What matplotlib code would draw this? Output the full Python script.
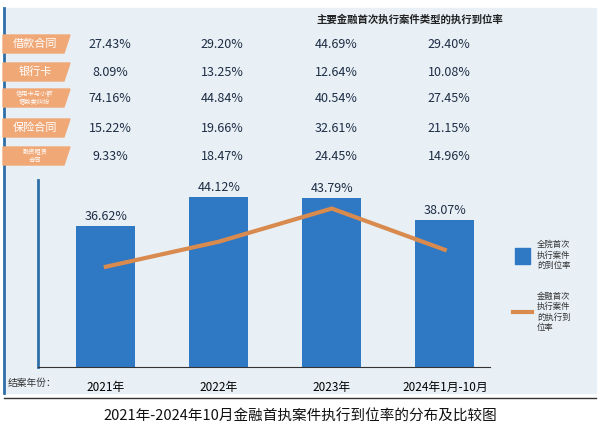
import matplotlib.pyplot as plt
from matplotlib.patches import Polygon

plt.rcParams["font.family"] = ["Noto Sans CJK SC", "DejaVu Sans"]

years = ["2021年", "2022年", "2023年", "2024年1月-10月"]
court_rate = [36.62, 44.12, 43.79, 38.07]
finance_rate = [26.0, 32.5, 41.1, 30.4]
case_types = ["借款合同", "银行卡", "信用卡与小额\n借款类纠纷", "保险合同", "融资租赁\n合同"]
type_rates = [
    [27.43, 29.20, 44.69, 29.40],
    [8.09, 13.25, 12.64, 10.08],
    [74.16, 44.84, 40.54, 27.45],
    [15.22, 19.66, 32.61, 21.15],
    [9.33, 18.47, 24.45, 14.96],
]

W, H = 600, 437
fig = plt.figure(figsize=(6, 4.37), dpi=100)
fig.patch.set_facecolor("white")
bg = fig.add_axes([0, 0, 1, 1])
bg.set_xlim(0, W); bg.set_ylim(H, 0); bg.axis("off")
bg.add_patch(plt.Rectangle((4, 8), 592, 385, color="#e8f0f6", zorder=0))
bg.plot([4, 4], [8, 393], color="#2f6fa8", lw=2)

def fx(px):
    return px / W

def fy(py):
    return 1 - py / H

fig.text(fx(410), fy(20), "主要金融首次执行案件类型的执行到位率", fontsize=7.5,
         ha="center", va="center", color="#222", weight="bold")
col_x = [110, 222, 336, 449]
row_y = [44, 72, 98, 128, 156]
for label, vals, y in zip(case_types, type_rates, row_y):
    tag = Polygon([(fx(3), fy(y - 9)), (fx(70), fy(y - 9)), (fx(64), fy(y + 9)), (fx(3), fy(y + 9))],
                  closed=True, transform=fig.transFigure, color="#f0a877")
    fig.patches.append(tag)
    fs = 8 if "\n" not in label else 4.5
    fig.text(fx(35), fy(y), label, fontsize=fs, ha="center", va="center", color="white", linespacing=1.0)
    for v, x in zip(vals, col_x):
        fig.text(fx(x), fy(y), f"{v:.2f}%", fontsize=9, ha="center", va="center", color="#1d2d44")

ax = fig.add_axes([fx(38), fy(367), fx(452), fy(180) - fy(367)])
ax.set_facecolor("none")
x = range(len(years))
ax.bar(x, court_rate, width=0.52, color="#2f78c4")
ax.plot(x, finance_rate, color="#d98a4e", lw=3)
for i, v in enumerate(court_rate):
    ax.text(i, v + 0.8, f"{v:.2f}%", ha="center", va="bottom", fontsize=9, color="#1d2d44")
ax.set_xlim(-0.6, 3.4)
ax.set_ylim(0, 48.5)
for s in ["top", "right"]:
    ax.spines[s].set_visible(False)
ax.spines["left"].set_color("#2f6fa8"); ax.spines["left"].set_linewidth(2)
ax.spines["bottom"].set_color("#333")
ax.set_yticks([])
ax.set_xticks(list(x))
ax.set_xticklabels(years, fontsize=8.5)
ax.tick_params(axis="x", length=0, pad=10)
fig.text(fx(8), fy(383), "结案年份：", fontsize=7, va="center", color="#333")

fig.patches.append(plt.Rectangle((fx(515), fy(264)), fx(15), fy(248) - fy(264),
                                 transform=fig.transFigure, color="#2f78c4"))
fig.text(fx(537), fy(255), "全院首次\n执行案件\n的到位率", fontsize=6, va="center", color="#333")
fig.lines.append(plt.Line2D([fx(513), fx(532)], [fy(312), fy(312)], transform=fig.transFigure,
                            color="#d98a4e", lw=3))
fig.text(fx(537), fy(312), "金融首次\n执行案件\n的执行到\n位率", fontsize=6, va="center", color="#333")

fig.lines.append(plt.Line2D([fx(4), fx(596)], [fy(398), fy(398)], transform=fig.transFigure, color="#333", lw=1))
fig.text(0.5, fy(417), "2021年-2024年10月金融首执案件执行到位率的分布及比较图", fontsize=10.5,
         ha="center", va="center", color="#111")

fig.savefig("out.png", dpi=100)
